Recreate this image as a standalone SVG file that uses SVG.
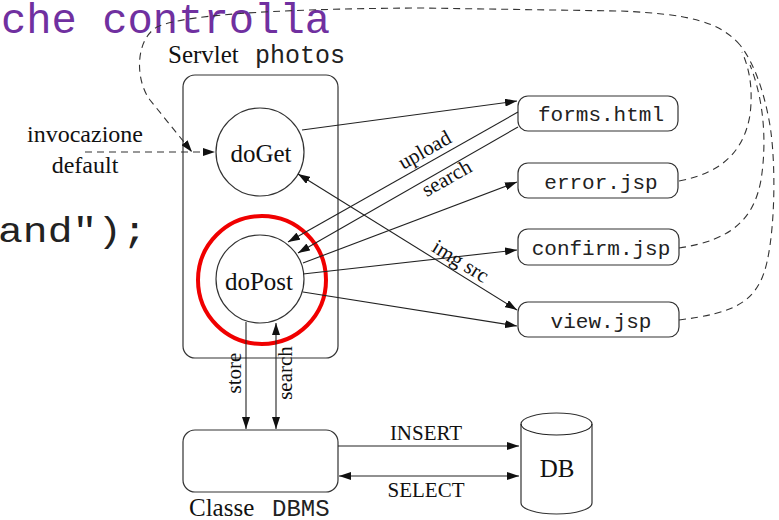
<svg xmlns="http://www.w3.org/2000/svg" width="779" height="520" viewBox="0 0 779 520">
<style>
.serif{font-family:"Liberation Serif","Times New Roman",serif;fill:#111}
.mono{font-family:"Liberation Mono","Courier New",monospace;fill:#222}
.box{fill:#fff;stroke:#333;stroke-width:1.2}
.ln{fill:none;stroke:#222;stroke-width:1.1}
.dash{fill:none;stroke:#333;stroke-width:1.1;stroke-dasharray:7,5}
</style>
<defs>
<marker id="ah" viewBox="0 0 12 8" refX="12" refY="4" markerWidth="12" markerHeight="8" markerUnits="userSpaceOnUse" orient="auto">
<path d="M0,0 L12,4 L0,8 Z" fill="#111"/>
</marker>
<marker id="as" viewBox="0 0 12 8" refX="0" refY="4" markerWidth="12" markerHeight="8" markerUnits="userSpaceOnUse" orient="auto">
<path d="M12,0 L0,4 L12,8 Z" fill="#111"/>
</marker>
</defs>

<text x="1" y="33" class="mono" font-size="42" style="fill:#7030A0" textLength="329" lengthAdjust="spacingAndGlyphs">che controlla</text>
<text x="-2" y="242" class="mono" font-size="35" textLength="149" lengthAdjust="spacingAndGlyphs">and");</text>

<g id="servlet">
<rect class="box" x="183" y="75" width="155" height="283" rx="12"/>
<text x="168" y="63" class="serif" font-size="25">Servlet</text>
<text x="255" y="63" class="mono" font-size="25">photos</text>
</g>

<g id="doGet">
<circle class="box" cx="260" cy="152" r="44"/>
<text x="261" y="162" class="serif" font-size="25" text-anchor="middle">doGet</text>
</g>

<g id="doPost">
<circle class="box" cx="260" cy="279" r="44"/>
<text x="259" y="290" class="serif" font-size="25" text-anchor="middle">doPost</text>
</g>

<g id="highlight">
<circle cx="262" cy="280" r="64" fill="none" stroke="#f00000" stroke-width="4"/>
</g>

<g id="forms">
<rect class="box" x="518" y="96" width="160" height="35" rx="10"/>
<text x="601" y="121" class="mono" font-size="21" text-anchor="middle">forms.html</text>
</g>
<g id="error">
<rect class="box" x="518" y="163" width="160" height="35" rx="10"/>
<text x="601" y="189" class="mono" font-size="21" text-anchor="middle">error.jsp</text>
</g>
<g id="confirm">
<rect class="box" x="518" y="229" width="161" height="36" rx="10"/>
<text x="601" y="255" class="mono" font-size="21" text-anchor="middle">confirm.jsp</text>
</g>
<g id="view">
<rect class="box" x="518" y="302" width="161" height="35" rx="10"/>
<text x="601" y="328" class="mono" font-size="21" text-anchor="middle">view.jsp</text>
</g>

<g id="dbms">
<rect class="box" x="183" y="430" width="155" height="62" rx="12"/>
<text x="189" y="516" class="serif" font-size="25">Classe</text>
<text x="272" y="516" class="mono" font-size="24">DBMS</text>
</g>

<g id="db">
<path class="box" d="M521,424 L521,503 A35.5,11 0 0 0 592,503 L592,424 A35.5,11 0 0 0 521,424 Z"/>
<path class="ln" d="M521,424 A35.5,11 0 0 0 592,424"/>
<text x="557" y="477" class="serif" font-size="25" text-anchor="middle">DB</text>
</g>

<g id="invocazione">
<text x="85" y="142" class="serif" font-size="24" text-anchor="middle">invocazione</text>
<text x="85" y="173" class="serif" font-size="24" text-anchor="middle">default</text>
</g>

<g id="connectors">
<path class="dash" d="M85,152 L215,152" marker-end="url(#ah)"/>
<path class="dash" d="M679,320 C735,313 758,302 767,262 C776,222 776,150 768,115 C762,85 752,60 740,45"/>
<path class="dash" d="M679,248 C733,240 754,218 761,180 C767,142 764,100 750,65"/>
<path class="dash" d="M679,181 C723,173 744,150 750,115 C753,90 750,70 742,52"/>
<path class="dash" d="M740,45 C720,22 690,14 620,11 L420,8 C260,9 180,16 157,27 C135,40 135,80 150,100 L192,152" marker-end="url(#ah)"/>

<path class="ln" d="M302,130 L517,101" marker-end="url(#ah)"/>
<path class="ln" d="M518,112 L288,242" marker-end="url(#ah)"/>
<path class="ln" d="M518,127 L298,253" marker-end="url(#ah)"/>
<path class="ln" d="M303,263 L517,182" marker-end="url(#ah)"/>
<path class="ln" d="M303,274 L517,250" marker-end="url(#ah)"/>
<path class="ln" d="M303,292 L517,326" marker-end="url(#ah)"/>
<path class="ln" d="M298,174 L517,310" marker-start="url(#as)" marker-end="url(#ah)"/>
<path class="ln" d="M246,322 L246,429" marker-end="url(#ah)"/>
<path class="ln" d="M276,323 L276,429" marker-start="url(#as)" marker-end="url(#ah)"/>
<path class="ln" d="M338,446 L519,446" marker-end="url(#ah)"/>
<path class="ln" d="M339,476 L519,476" marker-start="url(#as)" marker-end="url(#ah)"/>

<text class="serif" font-size="21" text-anchor="middle" transform="translate(428,156) rotate(-29.5)">upload</text>
<text class="serif" font-size="21" text-anchor="middle" transform="translate(450,184) rotate(-29.8)">search</text>
<text class="serif" font-size="21" text-anchor="middle" transform="translate(457,267) rotate(31.7)">img src</text>
<text class="serif" font-size="21" text-anchor="middle" transform="translate(241,373) rotate(-90)">store</text>
<text class="serif" font-size="21" text-anchor="middle" transform="translate(292,373) rotate(-90)">search</text>
<text x="426" y="440" class="serif" font-size="21" text-anchor="middle">INSERT</text>
<text x="426" y="497" class="serif" font-size="21" text-anchor="middle">SELECT</text>
</g>
</svg>
